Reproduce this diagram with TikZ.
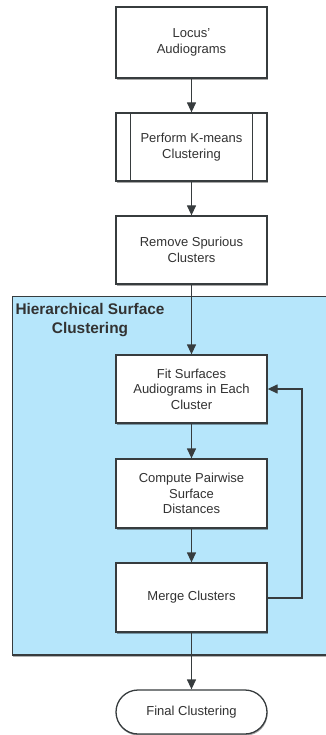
\documentclass[tikz,border=0pt]{standalone}
\usepackage{fontspec}
\setmainfont{Liberation Sans}
\usetikzlibrary{arrows.meta,shadows,positioning}
\definecolor{linegray}{RGB}{55,60,62}
\definecolor{textgray}{RGB}{50,50,50}
\definecolor{groupblue}{RGB}{182,230,251}
\tikzset{
  flowbox/.style={draw=linegray, line width=1.3pt, fill=white, minimum width=151pt,
    align=center, text=textgray, font=\fontsize{13pt}{15.6pt}\selectfont,
    drop shadow={shadow xshift=0.6pt, shadow yshift=-1.6pt, opacity=0.35, fill=black}},
  flowarrow/.style={draw=linegray, line width=1.3pt, -{Triangle[length=10pt,width=9pt]}},
}
\begin{document}
\begin{tikzpicture}[x=1pt,y=-1pt]
\useasboundingbox (0,0) rectangle (326,735);

% group background
\fill[groupblue, drop shadow={shadow xshift=0pt, shadow yshift=-1.5pt, opacity=0.3, fill=black}]
  (12.5,296.5) rectangle (340,655);
\draw[linegray, line width=1.2pt] (340,296.5) -- (12.5,296.5) -- (12.5,655) -- (340,655);
\node[font=\bfseries\fontsize{15.4pt}{19pt}\selectfont, text=textgray, align=center]
  (grouptitle) at (90,320.5) {Hierarchical Surface\\Clustering};

% process steps
\node[flowbox, minimum height=71pt] (locus) at (191.5,42.5) {Locus'\\Audiograms};
\node[flowbox, minimum height=68pt] (kmeans) at (191.5,147) {Perform K-means\\Clustering};
\draw[linegray, line width=1.3pt] ([xshift=15pt]kmeans.north west) -- ([xshift=15pt]kmeans.south west)
  ([xshift=-15pt]kmeans.north east) -- ([xshift=-15pt]kmeans.south east);
\node[flowbox, minimum height=68pt] (spurious) at (191.5,250) {Remove Spurious\\Clusters};
\node[flowbox, minimum height=68pt] (fit) at (191.5,389) {Fit Surfaces\\Audiograms in Each\\Cluster};
\node[flowbox, minimum height=69pt] (pairwise) at (191.5,493.5) {Compute Pairwise\\Surface\\Distances};
\node[flowbox, minimum height=69pt] (merge) at (191.5,597.5) {Merge Clusters};
\node[flowbox, rounded corners=22pt, minimum height=44pt] (final) at (191.5,712) {Final Clustering};

% connectors
\draw[flowarrow] (locus) -- (kmeans);
\draw[flowarrow] (kmeans) -- (spurious);
\draw[flowarrow] (spurious) -- (fit);
\draw[flowarrow] (fit) -- (pairwise);
\draw[flowarrow] (pairwise) -- (merge);
\draw[flowarrow] (merge) -- (final);
\coordinate (loopbottom) at (302,598);
\coordinate (looptop) at (302,389);
\draw[flowarrow] (merge.east |- loopbottom) -- (loopbottom) -- (looptop) -- (fit.east);
\end{tikzpicture}
\end{document}
